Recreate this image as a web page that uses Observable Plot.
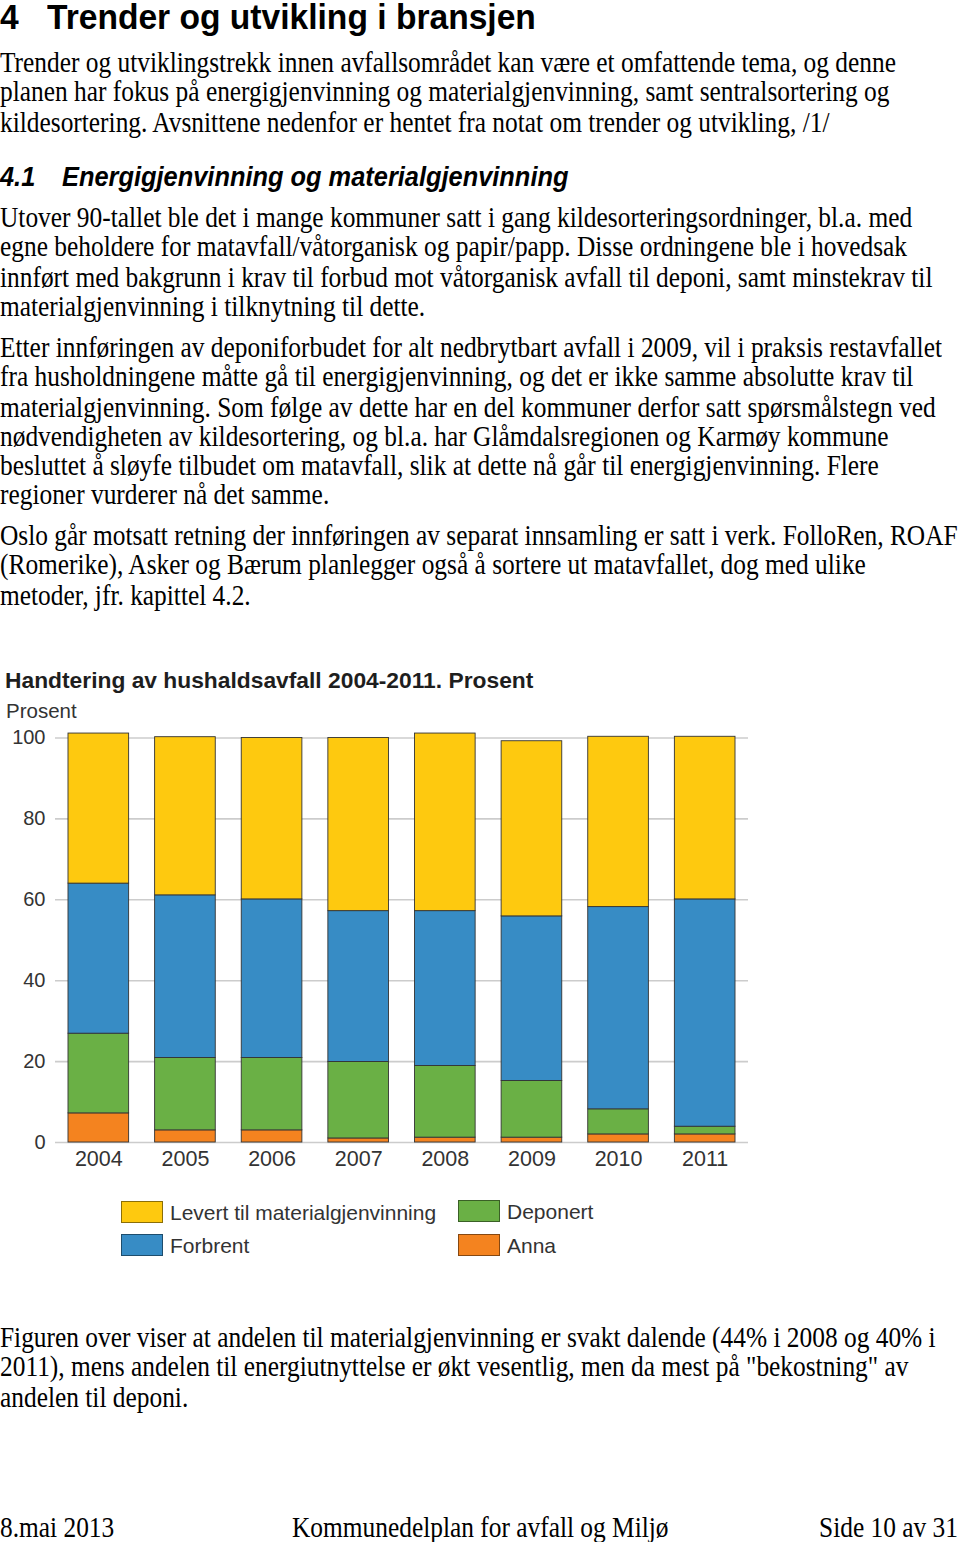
<!DOCTYPE html>
<html>
<head>
<meta charset="utf-8">
<script src="https://cdn.jsdelivr.net/npm/d3@7"></script>
<script src="https://cdn.jsdelivr.net/npm/@observablehq/plot@0.6"></script>
<style>
  html, body { margin: 0; padding: 0; background: #fff; }
  body { width: 960px; height: 1542px; position: relative; overflow: hidden; }
  .abs { position: absolute; white-space: nowrap; }
  .serif { font-family: "Liberation Serif", "Times New Roman", serif; font-size: 25.4px; color: #000;
           transform-origin: 0 0; transform: scaleY(1.16); line-height: 25.26px; }
  .h1 { font-family: "Liberation Sans", Arial, sans-serif; font-weight: bold; font-size: 33.6px; line-height: 36px; color:#000;
        transform-origin: 0 0; transform: scaleY(1.04); }
  .h2 { font-family: "Liberation Sans", Arial, sans-serif; font-weight: bold; font-style: italic; font-size: 25.4px; line-height: 30px; color:#000;
        transform-origin: 0 0; transform: scaleY(1.08); }
  .ctitle { font-family: "Liberation Sans", Arial, sans-serif; font-weight: bold; font-size: 22.8px; line-height: 26px; color:#1e1e1e; }
  .csub { font-family: "Liberation Sans", Arial, sans-serif; font-size: 20.5px; line-height: 24px; color:#333; }
  .leg { font-family: "Liberation Sans", Arial, sans-serif; font-size: 21px; line-height: 26px; color:#333; }
  .sw { position: absolute; width: 42px; height: 22px; box-sizing: border-box; border: 1px solid rgba(0,0,0,0.45); }
  #chart { position: absolute; left: 0; top: 660px; }
</style>
</head>
<body>
<div class="abs h1" style="left:0; top:-1px;">4</div>
<div class="abs h1" style="left:47px; top:-1px;">Trender og utvikling i bransjen</div>

<div class="abs serif" style="left:0; top:48px;">Trender og utviklingstrekk innen avfallsområdet kan være et omfattende tema, og denne<br>planen har fokus på energigjenvinning og materialgjenvinning, samt sentralsortering og<br>kildesortering. Avsnittene nedenfor er hentet fra notat om trender og utvikling, /1/</div>

<div class="abs h2" style="left:0; top:160px;">4.1</div>
<div class="abs h2" style="left:62px; top:160px;">Energigjenvinning og materialgjenvinning</div>

<div class="abs serif" style="left:0; top:203px;">Utover 90-tallet ble det i mange kommuner satt i gang kildesorteringsordninger, bl.a. med<br>egne beholdere for matavfall/våtorganisk og papir/papp. Disse ordningene ble i hovedsak<br>innført med bakgrunn i krav til forbud mot våtorganisk avfall til deponi, samt minstekrav til<br>materialgjenvinning i tilknytning til dette.</div>

<div class="abs serif" style="left:0; top:333px;">Etter innføringen av deponiforbudet for alt nedbrytbart avfall i 2009, vil i praksis restavfallet<br>fra husholdningene måtte gå til energigjenvinning, og det er ikke samme absolutte krav til<br>materialgjenvinning. Som følge av dette har en del kommuner derfor satt spørsmålstegn ved<br>nødvendigheten av kildesortering, og bl.a. har Glåmdalsregionen og Karmøy kommune<br>besluttet å sløyfe tilbudet om matavfall, slik at dette nå går til energigjenvinning. Flere<br>regioner vurderer nå det samme.</div>

<div class="abs serif" style="left:0; top:521px;">Oslo går motsatt retning der innføringen av separat innsamling er satt i verk. FolloRen, ROAF<br>(Romerike), Asker og Bærum planlegger også å sortere ut matavfallet, dog med ulike<br>metoder, jfr. kapittel 4.2.</div>

<div class="abs ctitle" style="left:5px; top:667px;">Handtering av hushaldsavfall 2004-2011. Prosent</div>
<div class="abs csub" style="left:6px; top:699px;">Prosent</div>

<div id="chart"></div>

<div id="legend"></div>

<div class="abs serif" style="left:0; top:1323px;">Figuren over viser at andelen til materialgjenvinning er svakt dalende (44% i 2008 og 40% i<br>2011), mens andelen til energiutnyttelse er økt vesentlig, men da mest på "bekostning" av<br>andelen til deponi.</div>

<div class="abs serif" style="left:0; top:1513px;">8.mai 2013</div>
<div class="abs serif" style="left:292px; top:1513px;">Kommunedelplan for avfall og Miljø</div>
<div class="abs serif" style="right:2px; top:1513px;">Side 10 av 31</div>

<script>
// ---- data (percent) ----
const years = ["2004", "2005", "2006", "2007", "2008", "2009", "2010", "2011"];
const anna = [7.2, 3.0, 3.0, 1.0, 1.2, 1.2, 2.0, 2.0];
const deponert = [19.7, 17.9, 17.9, 18.9, 17.7, 14.0, 6.2, 1.9];
const forbrent = [37.1, 40.2, 39.2, 37.3, 38.3, 40.7, 50.0, 56.2];
const levert = [37.1, 39.1, 39.9, 42.8, 43.9, 43.3, 42.1, 40.2];
const seriesNames = ["Anna", "Deponert", "Forbrent", "Levert til materialgjenvinning"];
const seriesColors = ["#f4831f", "#6ab045", "#378cc5", "#fec90f"];
const yTicks = [0, 20, 40, 60, 80, 100];
// legend order as in the reference (column-wise)
const legendItems = [
  ["Levert til materialgjenvinning", "Forbrent"],
  ["Deponert", "Anna"]
];

const seriesValues = [anna, deponert, forbrent, levert];
const data = [];
seriesNames.forEach((s, i) => years.forEach((y, j) => data.push({year: y, series: s, value: seriesValues[i][j]})));

const chart = Plot.plot({
  width: 960,
  height: 530,
  marginLeft: 55,
  marginRight: 212,
  marginTop: 77.5,
  marginBottom: 48,
  style: {fontFamily: "Liberation Sans, Arial, sans-serif", fontSize: "20px", color: "#333", background: "transparent", overflow: "visible"},
  x: {domain: years, paddingInner: 0.3, paddingOuter: 0.15, round: false, label: null},
  y: {domain: [0, 100], label: null},
  color: {domain: seriesNames, range: seriesColors},
  marks: [
    Plot.gridY(yTicks, {stroke: "#cccccc", strokeOpacity: 1, strokeWidth: 1.6}),
    Plot.barY(data, {x: "year", y: "value", fill: "series", z: "series", order: seriesNames, stroke: "#333", strokeWidth: 0.9}),
    Plot.axisY(yTicks, {tickSize: 0, tickPadding: 10, fontSize: 20, fill: "#333", label: null}),
    Plot.axisX({tickSize: 0, tickPadding: 8, fontSize: 21.5, fill: "#333", label: null})
  ]
});
document.getElementById("chart").appendChild(chart);

// legend
const legend = document.getElementById("legend");
const colLeft = [121, 458];
const rowTop = [[1201, 1234], [1200, 1234]];
legendItems.forEach((col, ci) => col.forEach((name, ri) => {
  const sw = document.createElement("div");
  sw.className = "sw";
  sw.style.left = colLeft[ci] + "px";
  sw.style.top = rowTop[ci][ri] + "px";
  sw.style.background = seriesColors[seriesNames.indexOf(name)];
  legend.appendChild(sw);
  const t = document.createElement("div");
  t.className = "abs leg";
  t.style.left = (colLeft[ci] + 49) + "px";
  t.style.top = (rowTop[ci][ri] - 1) + "px";
  t.textContent = name;
  legend.appendChild(t);
}));
</script>
</body>
</html>
